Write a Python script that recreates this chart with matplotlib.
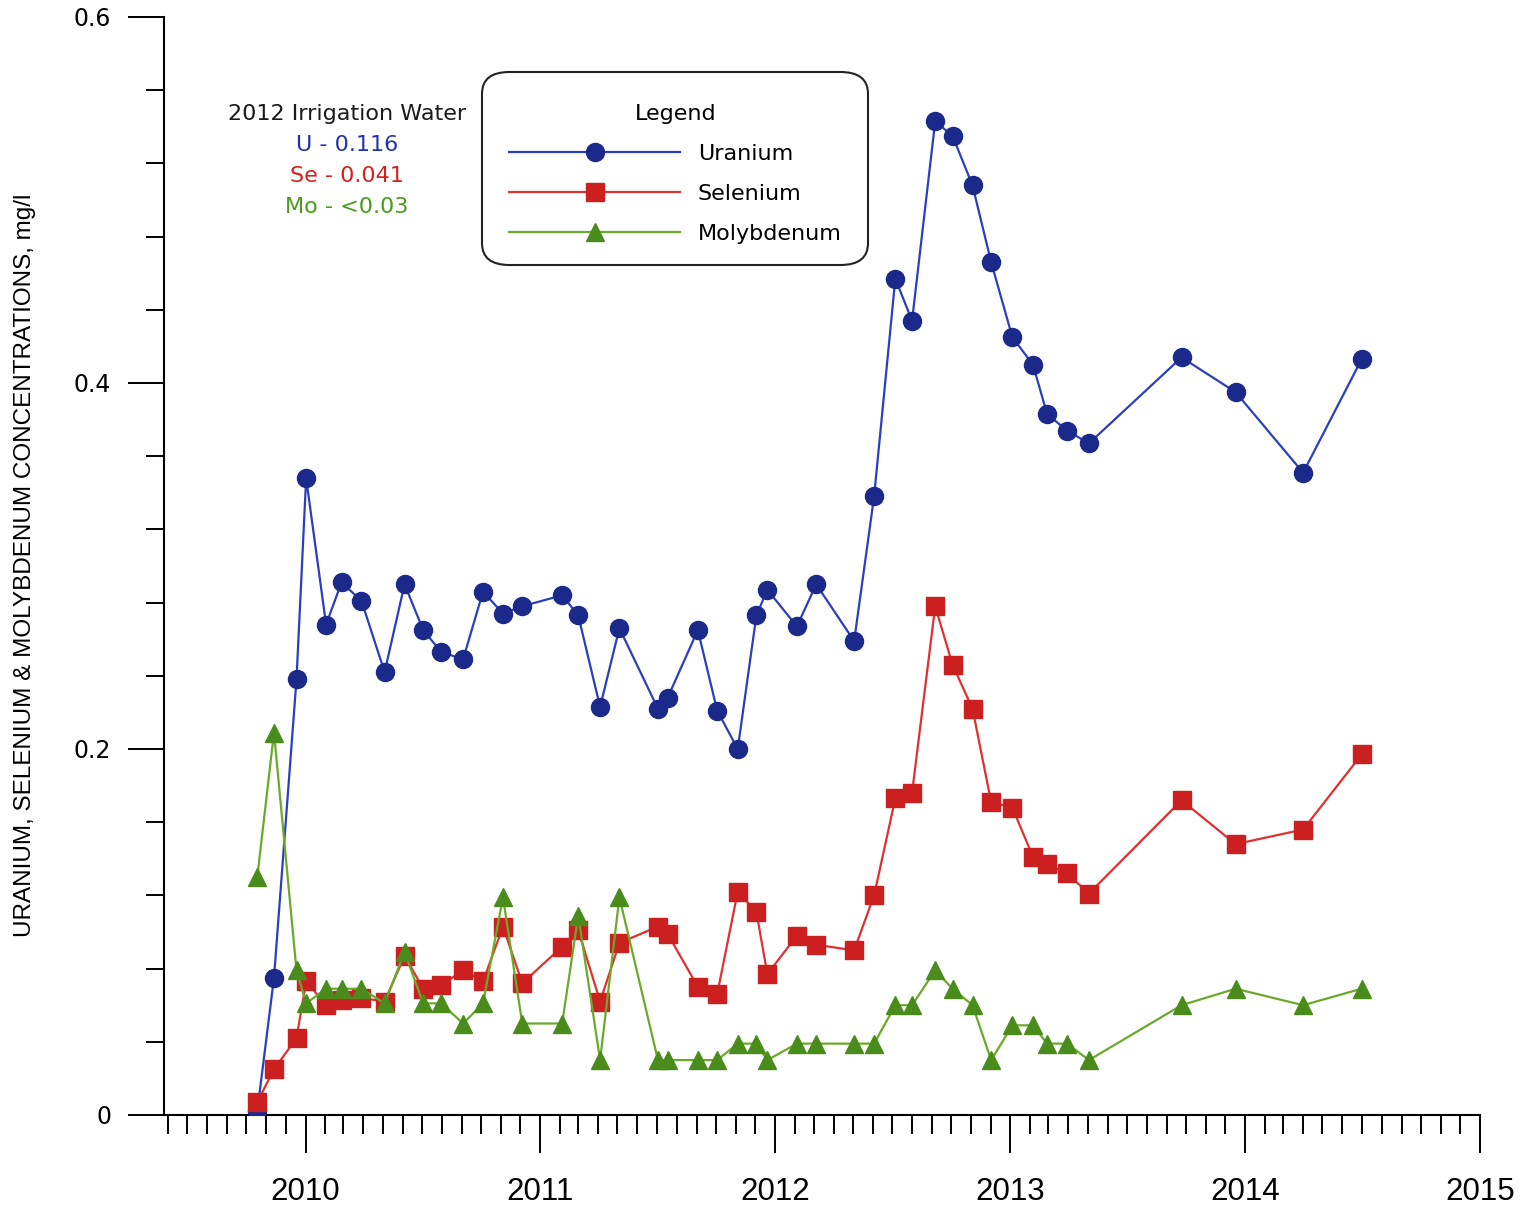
import pandas as pd
import matplotlib
matplotlib.use('Agg')
import matplotlib.pyplot as plt
import matplotlib.dates as mdates
from matplotlib.ticker import MultipleLocator, FuncFormatter
from matplotlib.patches import FancyBboxPatch

# sample dates
dates = ['2009-10-18', '2009-11-13', '2009-12-18', '2010-01-02', '2010-02-02', '2010-02-26',
         '2010-03-29', '2010-05-04', '2010-06-04', '2010-07-03', '2010-07-31', '2010-09-03',
         '2010-10-04', '2010-11-04', '2010-12-04', '2011-02-04', '2011-03-01', '2011-04-04',
         '2011-05-04', '2011-07-03', '2011-07-18', '2011-09-03', '2011-10-03', '2011-11-04',
         '2011-12-03', '2011-12-20', '2012-02-04', '2012-03-05', '2012-05-03', '2012-06-03',
         '2012-07-06', '2012-08-01', '2012-09-06', '2012-10-03', '2012-11-03', '2012-12-02',
         '2013-01-04', '2013-02-05', '2013-02-27', '2013-03-30', '2013-05-03', '2013-09-24',
         '2013-12-17', '2014-04-01', '2014-07-01']

uranium = [0.002, 0.075, 0.238, 0.348, 0.268, 0.291, 0.281, 0.242, 0.290, 0.265, 0.253, 0.249,
           0.286, 0.274, 0.278, 0.284, 0.273, 0.223, 0.266, 0.222, 0.228, 0.265, 0.221, 0.200,
           0.273, 0.287, 0.267, 0.290, 0.259, 0.338, 0.457, 0.434, 0.543, 0.535, 0.508, 0.466,
           0.425, 0.410, 0.383, 0.374, 0.367, 0.414, 0.395, 0.351, 0.413]

selenium = [0.007, 0.025, 0.042, 0.073, 0.060, 0.063, 0.064, 0.062, 0.087, 0.069, 0.071, 0.079,
            0.073, 0.103, 0.072, 0.092, 0.101, 0.062, 0.094, 0.103, 0.099, 0.070, 0.066, 0.122,
            0.111, 0.077, 0.098, 0.093, 0.090, 0.120, 0.173, 0.176, 0.278, 0.246, 0.222, 0.171,
            0.168, 0.141, 0.137, 0.132, 0.121, 0.172, 0.148, 0.156, 0.197]

molybdenum = [0.130, 0.209, 0.079, 0.061, 0.069, 0.069, 0.069, 0.061, 0.089, 0.061, 0.061, 0.050,
              0.061, 0.119, 0.050, 0.050, 0.109, 0.030, 0.119, 0.030, 0.030, 0.030, 0.030, 0.039,
              0.039, 0.030, 0.039, 0.039, 0.039, 0.039, 0.060, 0.060, 0.079, 0.069, 0.060, 0.030,
              0.049, 0.049, 0.039, 0.039, 0.030, 0.060, 0.069, 0.060, 0.069]

irrigation = ['2012 Irrigation Water', 'U - 0.116', 'Se - 0.041', 'Mo - <0.03']

x = pd.to_datetime(dates)

W, H = 1528, 1210
fig = plt.figure(figsize=(W / 100, H / 100), dpi=100)
ax = fig.add_axes([164 / W, 1 - 1115 / H, (1480 - 164) / W, (1115 - 17) / H])

ax.plot(x, uranium, '-o', color='#2a3fbf', mfc='#1b2a8a', mec='#1b2a8a', lw=1.6, ms=13, label='Uranium', zorder=3)
ax.plot(x, selenium, '-s', color='#e03030', mfc='#cc2020', mec='#cc2020', lw=1.6, ms=13, label='Selenium', zorder=3)
ax.plot(x, molybdenum, '-^', color='#6aaa2a', mfc='#4a8c1c', mec='#4a8c1c', lw=1.6, ms=13.5, label='Molybdenum', zorder=3)

ax.set_xlim(pd.Timestamp('2009-05-26'), pd.Timestamp('2015-01-01'))
ax.set_ylim(0, 0.6)

for s in ['top', 'right']:
    ax.spines[s].set_visible(False)
for s in ['left', 'bottom']:
    ax.spines[s].set_linewidth(1.5)

ax.xaxis.set_major_locator(mdates.YearLocator())
ax.xaxis.set_minor_locator(mdates.MonthLocator())
ax.xaxis.set_major_formatter(mdates.DateFormatter('%Y'))
ax.yaxis.set_major_locator(MultipleLocator(0.2))
ax.yaxis.set_minor_locator(MultipleLocator(0.04))
ax.yaxis.set_major_formatter(FuncFormatter(lambda v, p: '%g' % round(v, 2)))

ax.tick_params(axis='x', which='major', length=27, width=1.4, pad=18, labelsize=22.5)
ax.tick_params(axis='x', which='minor', length=14, width=1.4)
ax.tick_params(axis='y', which='major', length=26, width=1.4, pad=12, labelsize=17)
ax.tick_params(axis='y', which='minor', length=13, width=1.4)
for lab in ax.get_xticklabels():
    lab.set_family('Liberation Sans')

fig.text(25 / W, 1 - 565 / H, 'URANIUM, SELENIUM & MOLYBDENUM CONCENTRATIONS, mg/l', rotation=90,
         ha='center', va='center', fontsize=17.5, family='Liberation Sans')

# irrigation water reference values
cols = ['#1a1a1a', '#2233aa', '#d42020', '#4a9a1c']
for i, (t, c) in enumerate(zip(irrigation, cols)):
    fig.text(347 / W, 1 - (114 + i * 31) / H, t, color=c, ha='center', va='center', fontsize=16)

# legend box drawn separately
box = FancyBboxPatch((482 / W, 1 - 265 / H), (868 - 482) / W, (265 - 72) / H,
                     boxstyle='round,pad=0,rounding_size=0.018', transform=fig.transFigure,
                     facecolor='white', edgecolor='#222222', lw=1.5, zorder=5)
fig.add_artist(box)

leg = ax.legend(loc='upper left', bbox_to_anchor=(509 / W, 1 - 104 / H), bbox_transform=fig.transFigure,
                title='Legend', fontsize=16, title_fontsize=16, handlelength=7.7, handletextpad=0.8,
                labelspacing=0.9, borderpad=0, borderaxespad=0, numpoints=1, frameon=False)
leg.set_zorder(6)
fig.add_artist(leg)

fig.savefig('out.png', dpi=100)
